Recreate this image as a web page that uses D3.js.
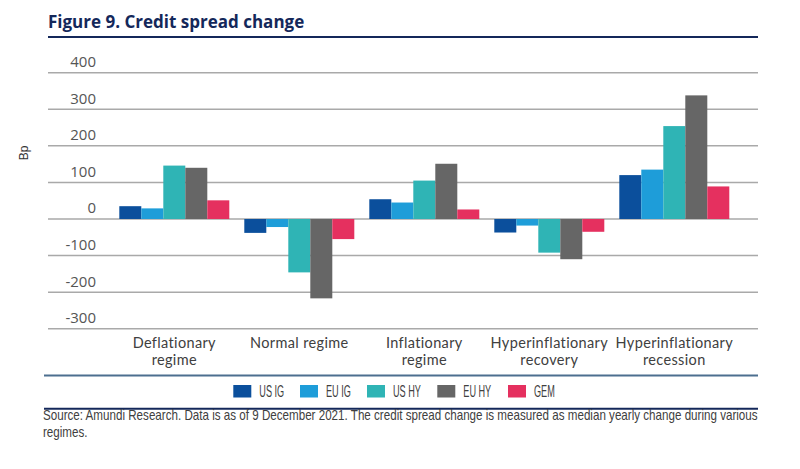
<!DOCTYPE html>
<html>
<head>
<meta charset="utf-8">
<script src="https://cdn.jsdelivr.net/npm/d3@7"></script>
<style>
  html, body { margin: 0; padding: 0; background: #fff; }
  svg { display: block; }
</style>
</head>
<body>
<svg id="chart" width="800" height="469"></svg>
<script>
// ---- Data ----
const categories = [
  ["Deflationary", "regime"],
  ["Normal regime"],
  ["Inflationary", "regime"],
  ["Hyperinflationary", "recovery"],
  ["Hyperinflationary", "recession"]
];
const seriesNames = ["US IG", "EU IG", "US HY", "EU HY", "GEM"];
const seriesColors = ["#0b4f9c", "#1e9dd9", "#2fb4b5", "#666666", "#e5305f"];
const usIG = [35, -38, 54, -37, 120];
const euIG = [29, -22, 45, -18, 135];
const usHY = [146, -146, 105, -92, 254];
const euHY = [140, -217, 151, -110, 338];
const gem  = [51, -55, 26, -35, 89];
const yTicks = [400, 300, 200, 100, 0, -100, -200, -300];
const titleText = "Figure 9. Credit spread change";
const yLabel = "Bp";
const sourceLines = [
  "Source: Amundi Research. Data is as of 9 December 2021. The credit spread change is measured as median yearly change during various",
  "regimes."
];

const seriesValues = [usIG, euIG, usHY, euHY, gem];
const catKeys = categories.map(c => c.join(" "));

const svg = d3.select("#chart");
const navy = "#14285a";
const gridLeft = 48, gridRight = 758;
const condensedFont = "'Liberation Sans', Arial, sans-serif";

// Title
svg.append("text")
  .attr("x", 48).attr("y", 27.5)
  .attr("font-family", "'Open Sans', 'Noto Sans', sans-serif")
  .attr("font-weight", 700)
  .attr("font-size", 17)
  .attr("fill", navy)
  .text(titleText);
svg.append("line")
  .attr("x1", gridLeft).attr("x2", gridRight)
  .attr("y1", 37).attr("y2", 37)
  .attr("stroke", navy).attr("stroke-width", 2);

// Scales
const x0 = d3.scaleBand().domain(catKeys).range([111.8, 736.8])
  .paddingInner(0.12).paddingOuter(0.06);
const x1 = d3.scaleBand().domain(seriesNames).range([0, x0.bandwidth()]).padding(0);
const y = d3.scaleLinear().domain([-300, 400]).range([328.7, 72.7]);

// Gridlines
svg.append("g").selectAll("line").data(yTicks).join("line")
  .attr("x1", gridLeft).attr("x2", gridRight)
  .attr("y1", d => y(d)).attr("y2", d => y(d))
  .attr("stroke", "#a9a9a9").attr("stroke-width", 1.5);

// Y tick labels (above the gridline)
svg.append("g").selectAll("text").data(yTicks).join("text")
  .attr("x", 96).attr("y", d => y(d) - 5.5)
  .attr("text-anchor", "end")
  .attr("font-family", "'Open Sans', 'Noto Sans', sans-serif")
  .attr("font-size", 15)
  .attr("fill", "#555")
  .text(d => d);

// Y label
svg.append("text")
  .attr("transform", "translate(28,153) rotate(-90)")
  .attr("text-anchor", "middle")
  .attr("font-family", condensedFont)
  .attr("font-size", 12)
  .attr("fill", "#333")
  .text(yLabel);

// Bars
const groups = svg.append("g").selectAll("g").data(catKeys).join("g")
  .attr("transform", d => `translate(${x0(d)},0)`);
groups.selectAll("rect")
  .data((d, i) => seriesNames.map((s, j) => ({ s, j, v: seriesValues[j][i] })))
  .join("rect")
  .attr("x", d => x1(d.s))
  .attr("width", x1.bandwidth())
  .attr("y", d => y(Math.max(0, d.v)))
  .attr("height", d => Math.abs(y(d.v) - y(0)))
  .attr("fill", d => seriesColors[d.j]);

// Category labels (one text element per line)
const catLines = [];
categories.forEach((c, i) => c.forEach((line, k) => catLines.push({ i, k, line })));
svg.append("g").selectAll("text").data(catLines).join("text")
  .attr("x", d => x0(catKeys[d.i]) + x0.bandwidth() / 2)
  .attr("y", d => 347.5 + d.k * 17.5)
  .attr("text-anchor", "middle")
  .attr("font-family", "Lato, 'Open Sans', sans-serif")
  .attr("font-size", 14.5)
  .attr("letter-spacing", 0.35)
  .attr("fill", "#404040")
  .text(d => d.line);

// Bottom rules
svg.append("line")
  .attr("x1", 44).attr("x2", gridRight)
  .attr("y1", 375.5).attr("y2", 375.5)
  .attr("stroke", "#4c6f8f").attr("stroke-width", 2);
svg.append("line")
  .attr("x1", 44).attr("x2", gridRight)
  .attr("y1", 408.7).attr("y2", 408.7)
  .attr("stroke", navy).attr("stroke-width", 2);

// Legend
const legendX = [233.3, 300, 367, 437.3, 508];
const legend = svg.append("g").selectAll("g").data(seriesNames).join("g")
  .attr("transform", (d, i) => `translate(${legendX[i]},385)`);
legend.append("rect")
  .attr("width", 18).attr("height", 12.5)
  .attr("fill", (d, i) => seriesColors[i]);
legend.append("text")
  .attr("transform", "translate(26,12.3) scale(0.56,1)")
  .attr("font-family", condensedFont)
  .attr("font-size", 16.3)
  .attr("fill", "#404040")
  .text(d => d);

// Source (condensed by horizontal scaling measured to fit the rule width)
const srcG = svg.append("g");
const srcTexts = srcG.selectAll("text").data(sourceLines).join("text")
  .attr("x", 0)
  .attr("y", (d, i) => i * 17.5)
  .attr("font-family", condensedFont)
  .attr("font-size", 14)
  .attr("fill", "#404040")
  .text(d => d);
const natW = srcTexts.nodes()[0].getComputedTextLength();
const sx = 715 / natW;
srcG.attr("transform", `translate(43,420) scale(${sx},1)`);
</script>
</body>
</html>
